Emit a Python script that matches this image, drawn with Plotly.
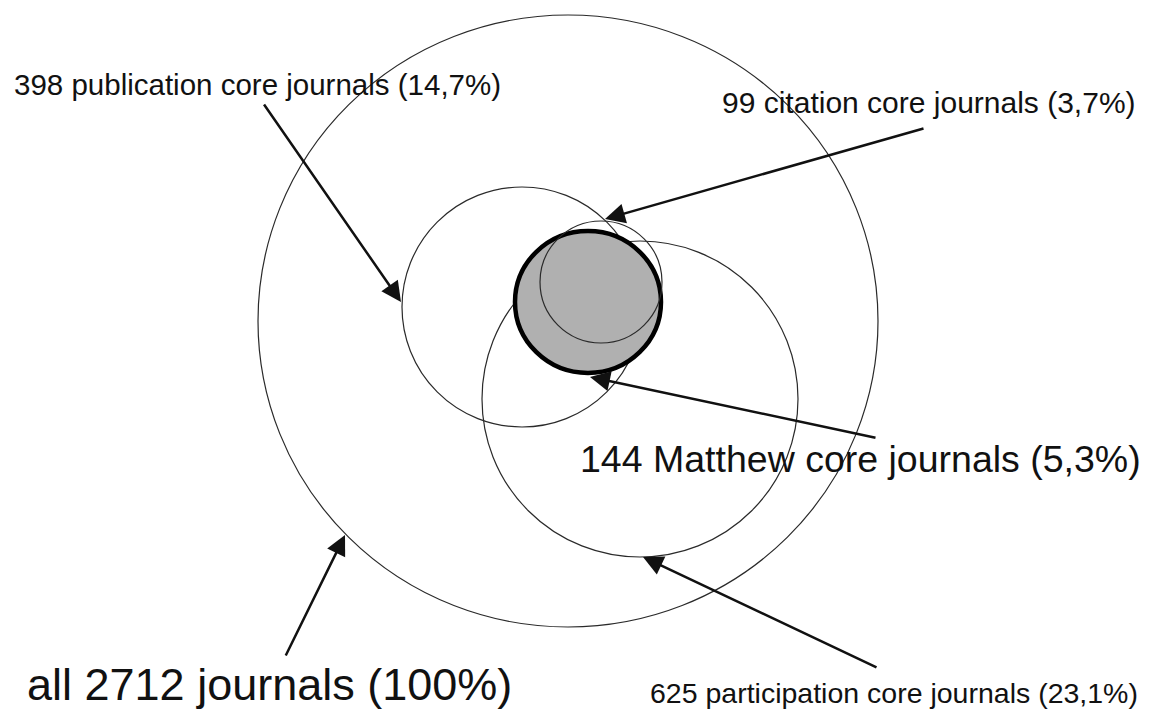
import plotly.graph_objects as go

# ---- data ----
groups = ["all", "publication", "participation", "Matthew", "citation"]
counts = [2712, 398, 625, 144, 99]
shares = ["100%", "14,7%", "23,1%", "5,3%", "3,7%"]

# ---- diagram geometry (pixel space of the picture) ----
circle_cx = [568, 522, 640, 588, 601]
circle_cy = [321, 307, 399, 302, 282]
circle_rx = [310, 120, 158, 73, 61]
circle_ry = [306, 120, 158, 71, 61]

label_x = [25, 12, 648, 578, 720]
label_y = [684, 84, 693, 459, 102]
label_size = [45, 29.5, 28.5, 37.5, 30]

arrow_tip_x = [345, 401, 643, 590, 605]
arrow_tip_y = [535, 302, 557, 377, 219]
arrow_tail_x = [285, 263, 878, 877, 925]
arrow_tail_y = [657, 103, 668, 438, 128]

W, H = 1151, 713
FONT = "Liberation Sans, Arial, Helvetica, sans-serif"


def make_label(g, n, s):
    if g == "all":
        return f"all {n} journals ({s})"
    return f"{n} {g} core journals ({s})"


fig = go.Figure()
# invisible trace so the axes exist
fig.add_trace(go.Scatter(x=[0, W], y=[0, H], mode="markers",
                         marker=dict(opacity=0), hoverinfo="skip", showlegend=False))

shapes = []
for g, cx, cy, rx, ry in zip(groups, circle_cx, circle_cy, circle_rx, circle_ry):
    if g == "Matthew":
        style = dict(line=dict(color="#000000", width=4.5), fillcolor="#b0b0b0")
    else:
        style = dict(line=dict(color="#2a2a2a", width=1.2), fillcolor="rgba(0,0,0,0)")
    shapes.append(dict(type="circle", xref="x", yref="y",
                       x0=cx - rx, x1=cx + rx, y0=cy - ry, y1=cy + ry, **style))

annotations = []
for g, n, s, lx, ly, fs in zip(groups, counts, shares, label_x, label_y, label_size):
    annotations.append(dict(x=lx, y=ly, xref="x", yref="y", text=make_label(g, n, s),
                            showarrow=False, xanchor="left", yanchor="middle",
                            font=dict(family=FONT, size=fs, color="#111111")))
for tx, ty, ax, ay in zip(arrow_tip_x, arrow_tip_y, arrow_tail_x, arrow_tail_y):
    annotations.append(dict(x=tx, y=ty, ax=ax, ay=ay, xref="x", yref="y",
                            axref="x", ayref="y", text="", showarrow=True,
                            arrowhead=2, arrowsize=1.6, arrowwidth=2.5,
                            arrowcolor="#111111", standoff=0, startstandoff=0))

fig.update_layout(
    width=W, height=H,
    margin=dict(l=0, r=0, t=0, b=0),
    paper_bgcolor="white", plot_bgcolor="white",
    xaxis=dict(range=[0, W], visible=False, fixedrange=True),
    yaxis=dict(range=[H, 0], visible=False, fixedrange=True),
    shapes=shapes, annotations=annotations,
    showlegend=False,
)

fig.write_html(
    "out.html",
    config={"displayModeBar": False},
    post_script="document.body.style.margin='0';document.body.style.padding='0';"
                "document.body.style.overflow='hidden';",
)
